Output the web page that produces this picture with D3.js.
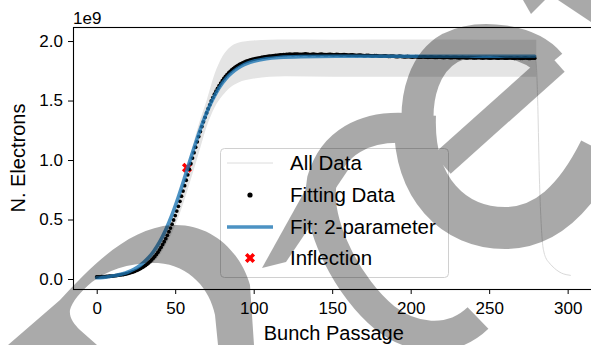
<!DOCTYPE html>
<html>
<head>
<meta charset="utf-8">
<script src="https://cdn.jsdelivr.net/npm/d3@7"></script>
<style>
  body { margin: 0; background: #fff; }
  svg { display: block; font-family: "Liberation Sans", Arial, sans-serif; }
</style>
</head>
<body>
<svg id="chart" width="591" height="345"></svg>
<script>
// ---- data (N. electrons in units of 1e9) ----

// fitting data, one value per bunch passage 0..279
const fittingData = [
  0.017, 0.017, 0.018, 0.019, 0.019, 0.020, 0.021, 0.022, 0.023, 0.024,
  0.025, 0.027, 0.028, 0.030, 0.032, 0.034, 0.036, 0.038, 0.041, 0.044,
  0.047, 0.051, 0.055, 0.059, 0.064, 0.070, 0.075, 0.082, 0.089, 0.097,
  0.105, 0.114, 0.124, 0.135, 0.147, 0.160, 0.175, 0.190, 0.207, 0.225,
  0.245, 0.266, 0.289, 0.313, 0.339, 0.367, 0.397, 0.428, 0.461, 0.496,
  0.533, 0.571, 0.611, 0.653, 0.696, 0.739, 0.784, 0.830, 0.876, 0.923,
  0.969, 1.016, 1.062, 1.108, 1.153, 1.197, 1.239, 1.281, 1.321, 1.359,
  1.396, 1.431, 1.464, 1.496, 1.525, 1.553, 1.579, 1.603, 1.626, 1.647,
  1.667, 1.685, 1.702, 1.717, 1.732, 1.745, 1.757, 1.768, 1.778, 1.787,
  1.796, 1.803, 1.810, 1.817, 1.823, 1.828, 1.833, 1.837, 1.841, 1.845,
  1.848, 1.851, 1.854, 1.857, 1.859, 1.862, 1.864, 1.866, 1.868, 1.870,
  1.872, 1.874, 1.876, 1.877, 1.879, 1.880, 1.882, 1.883, 1.884, 1.885,
  1.886, 1.887, 1.888, 1.889, 1.888, 1.887, 1.889, 1.890, 1.889, 1.888,
  1.887, 1.888, 1.890, 1.891, 1.889, 1.887, 1.886, 1.888, 1.889, 1.888,
  1.886, 1.885, 1.887, 1.889, 1.888, 1.886, 1.885, 1.886, 1.888, 1.887,
  1.885, 1.884, 1.886, 1.887, 1.886, 1.884, 1.883, 1.885, 1.886, 1.884,
  1.882, 1.881, 1.883, 1.884, 1.882, 1.880, 1.879, 1.881, 1.882, 1.880,
  1.878, 1.877, 1.879, 1.880, 1.878, 1.876, 1.875, 1.877, 1.878, 1.876,
  1.874, 1.873, 1.874, 1.876, 1.875, 1.873, 1.871, 1.872, 1.874, 1.873,
  1.871, 1.869, 1.870, 1.872, 1.871, 1.869, 1.867, 1.868, 1.870, 1.869,
  1.867, 1.866, 1.867, 1.869, 1.868, 1.866, 1.864, 1.865, 1.867, 1.866,
  1.864, 1.863, 1.864, 1.866, 1.865, 1.863, 1.862, 1.863, 1.865, 1.864,
  1.862, 1.861, 1.862, 1.864, 1.863, 1.861, 1.860, 1.862, 1.863, 1.862,
  1.860, 1.859, 1.861, 1.862, 1.861, 1.859, 1.858, 1.860, 1.861, 1.860,
  1.858, 1.858, 1.859, 1.861, 1.860, 1.858, 1.857, 1.859, 1.860, 1.859,
  1.857, 1.857, 1.858, 1.860, 1.859, 1.857, 1.856, 1.858, 1.859, 1.858,
  1.856, 1.856, 1.857, 1.859, 1.858, 1.856, 1.855, 1.857, 1.858, 1.857,
  1.855, 1.855, 1.856, 1.858, 1.857, 1.855, 1.854, 1.856, 1.857, 1.856
];

// 2-parameter fit
const fitX = [0, 4, 8, 12, 16, 20, 24, 28, 32, 36, 40, 44, 48, 52, 56, 58, 60, 64, 68, 72,
  76, 80, 84, 88, 92, 96, 100, 108, 116, 130, 160, 200, 240, 279];
const fitY = [0.010, 0.014, 0.021, 0.029, 0.042, 0.059, 0.084, 0.118, 0.165, 0.227, 0.309,
  0.414, 0.541, 0.689, 0.852, 0.936, 1.020, 1.183, 1.331, 1.458, 1.563, 1.645, 1.708, 1.754,
  1.788, 1.813, 1.830, 1.851, 1.862, 1.869, 1.872, 1.872, 1.872, 1.872];

// spread of all the runs (lowest / highest run)
const bandX = [0, 10, 20, 30, 40, 45, 50, 55, 60, 65, 70, 75, 80, 85, 90, 95, 100, 110, 120, 150, 200, 250, 280];
const bandLow = [0.013, 0.020, 0.040, 0.088, 0.200, 0.310, 0.450, 0.630, 0.840, 1.060, 1.280, 1.440,
  1.540, 1.610, 1.650, 1.672, 1.685, 1.700, 1.705, 1.700, 1.700, 1.700, 1.700];
const bandHigh = [0.022, 0.035, 0.058, 0.125, 0.285, 0.420, 0.600, 0.820, 1.060, 1.300, 1.500, 1.720,
  1.870, 1.950, 1.985, 1.998, 2.005, 2.010, 2.012, 2.010, 2.012, 2.010, 2.010];

// the one run that goes on past 280
const tailX = [279, 280, 281, 282, 283, 284, 285, 286, 288, 290, 293, 296, 299, 302];
const tailY = [1.86, 1.80, 1.45, 0.85, 0.50, 0.30, 0.22, 0.18, 0.14, 0.11, 0.075, 0.05, 0.037, 0.03];

const inflection = { x: 57.5, y: 0.935 };

const xTicks = [0, 50, 100, 150, 200, 250, 300];
const yTicks = [0.0, 0.5, 1.0, 1.5, 2.0];

const legendLabels = ["All Data", "Fitting Data", "Fit: 2-parameter", "Inflection"];

// ---- layout ----
const margin = { left: 73, top: 27, bottom: 289 };
const plotRight = 594.5;   // frame runs past the picture edge

const svg = d3.select("#chart");

const x = d3.scaleLinear().domain([-15.1, 317.1]).range([margin.left, plotRight]);
const y = d3.scaleLinear().domain([-0.084, 2.118]).range([margin.bottom, margin.top]);

const fitColor = "#1f77b4";
const redX = "#ff0000";

const plot = svg.append("g");

// all data band
plot.append("path")
  .datum(bandX.map((d, i) => [d, bandLow[i], bandHigh[i]]))
  .attr("fill", "#e4e4e4")
  .attr("d", d3.area()
    .x(d => x(d[0]))
    .y0(d => y(d[1]))
    .y1(d => y(d[2]))
    .curve(d3.curveMonotoneX));

plot.append("path")
  .datum(tailX.map((d, i) => [d, tailY[i]]))
  .attr("fill", "none")
  .attr("stroke", "#d9d9d9")
  .attr("stroke-width", 1)
  .attr("d", d3.line().x(d => x(d[0])).y(d => y(d[1])).curve(d3.curveMonotoneX));

// inflection marker (under the fit line)
const xMarker = d3.symbol().type(d3.symbolCross).size(64);
plot.append("path")
  .attr("d", xMarker())
  .attr("fill", redX)
  .attr("transform", `translate(${x(inflection.x)},${y(inflection.y)}) rotate(45)`);

// fitting data dots
plot.append("g")
  .selectAll("circle")
  .data(fittingData)
  .join("circle")
  .attr("cx", (d, i) => x(i))
  .attr("cy", d => y(d))
  .attr("r", 1.9)
  .attr("fill", "#000");

// fit
plot.append("path")
  .datum(fitX.map((d, i) => [d, fitY[i]]))
  .attr("fill", "none")
  .attr("stroke", fitColor)
  .attr("stroke-opacity", 0.8)
  .attr("stroke-width", 3.6)
  .attr("stroke-linecap", "round")
  .attr("d", d3.line().x(d => x(d[0])).y(d => y(d[1])).curve(d3.curveMonotoneX));

// ---- axes ----
const xAxis = svg.append("g")
  .attr("transform", `translate(0,${margin.bottom})`)
  .call(d3.axisBottom(x).tickValues(xTicks).tickSize(5).tickPadding(8).tickFormat(d3.format("d")));
const yAxis = svg.append("g")
  .attr("transform", `translate(${margin.left},0)`)
  .call(d3.axisLeft(y).tickValues(yTicks).tickSize(5).tickPadding(5).tickFormat(d3.format(".1f")));

[xAxis, yAxis].forEach(a => {
  a.select(".domain").remove();
  a.selectAll("text").attr("font-family", "Liberation Sans, Arial, sans-serif")
    .attr("font-size", 17).attr("fill", "#000");
  a.selectAll("line").attr("stroke", "#000").attr("stroke-width", 1);
});

svg.append("rect")
  .attr("x", margin.left + 0.5).attr("y", margin.top + 0.5)
  .attr("width", plotRight - margin.left).attr("height", margin.bottom - margin.top)
  .attr("fill", "none").attr("stroke", "#000").attr("stroke-width", 1.1);

svg.append("text")
  .attr("x", margin.left).attr("y", 24)
  .attr("font-size", 17)
  .text("1e9");

svg.append("text")
  .attr("x", (margin.left + plotRight) / 2).attr("y", 340)
  .attr("text-anchor", "middle").attr("font-size", 20)
  .text("Bunch Passage");

svg.append("text")
  .attr("transform", `translate(25,${(margin.top + margin.bottom) / 2}) rotate(-90)`)
  .attr("text-anchor", "middle").attr("font-size", 20)
  .text("N. Electrons");

// ---- legend ----
const lg = svg.append("g");
lg.append("rect")
  .attr("x", 220.5).attr("y", 148.5).attr("width", 228).attr("height", 129)
  .attr("rx", 4)
  .attr("fill", "#fff").attr("fill-opacity", 0.8)
  .attr("stroke", "#d0d0d0");

const rowY = [163, 195, 227, 258];
lg.append("line").attr("x1", 227).attr("x2", 273).attr("y1", rowY[0]).attr("y2", rowY[0])
  .attr("stroke", "#dcdcdc").attr("stroke-width", 1);
lg.append("circle").attr("cx", 250).attr("cy", rowY[1]).attr("r", 2.6).attr("fill", "#000");
lg.append("line").attr("x1", 227).attr("x2", 273).attr("y1", rowY[2]).attr("y2", rowY[2])
  .attr("stroke", fitColor).attr("stroke-opacity", 0.8).attr("stroke-width", 3.6);
lg.append("path").attr("d", xMarker()).attr("fill", redX)
  .attr("transform", `translate(250,${rowY[3]}) rotate(45)`);

lg.selectAll("text.lbl")
  .data(legendLabels)
  .join("text")
  .attr("class", "lbl")
  .attr("x", 290)
  .attr("y", (d, i) => rowY[i] + 7)
  .attr("font-size", 20.5)
  .text(d => d);

// ---- watermark overlay ----
const wmFills = [
  "M8,345 L60,300 C95,262 130,228 172,225 C210,223 240,250 250,285 L254,345 L218,345 L215,315 C210,290 190,265 158,263 C130,262 108,270 92,282 C80,292 72,302 70,310 C69,318 74,324 80,330 L97,345 Z",
  "M262,268 L322,160 L348,170 L286,262 Z",
  "M523,0 L531,14 L545,0 Z",
  "M558,0 L591,22 L591,0 Z"
];
const wmStrokes = [
  { d: "M405,128 C365,126 333,142 322,180 C314,225 350,290 385,318 C410,338 450,345 478,318", w: 30 },
  { d: "M550,64 C530,40 480,33 450,48 C425,62 415,95 418,130", w: 32 },
  { d: "M556,62 L442,164", w: 26 },
  { d: "M415,115 C412,190 455,228 505,228 C545,228 575,200 600,150", w: 42 }
];
const wm = svg.append("g").attr("opacity", 0.333);
wm.selectAll("path.f").data(wmFills).join("path").attr("class", "f")
  .attr("d", d => d).attr("fill", "#000");
wm.selectAll("path.s").data(wmStrokes).join("path").attr("class", "s")
  .attr("d", d => d.d).attr("fill", "none").attr("stroke", "#000").attr("stroke-width", d => d.w);
</script>
</body>
</html>
